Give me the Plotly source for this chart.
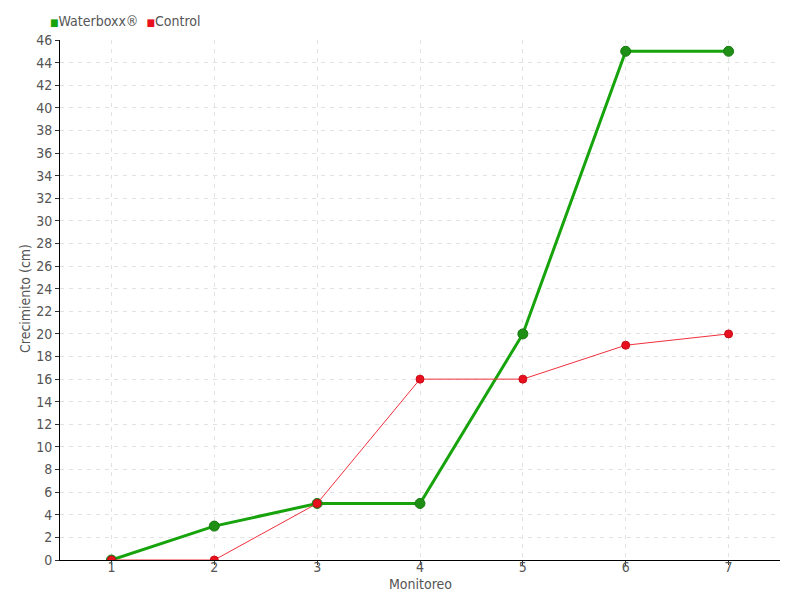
import plotly.graph_objects as go

monitoreo = [1, 2, 3, 4, 5, 6, 7]
waterboxx = [0, 3, 5, 5, 20, 45, 45]
control = [0, 0, 5, 16, 16, 19, 20]

FONT = "'Liberation Sans Narrow', 'DejaVu Sans Condensed', sans-serif"
GREEN = "#17a30c"
RED = "#e8101e"
TXT = "#555555"

fig = go.Figure()
fig.add_trace(go.Scatter(
    x=monitoreo, y=waterboxx, name="Waterboxx®", mode="lines+markers",
    line=dict(color=GREEN, width=3), showlegend=False,
    marker=dict(color="#1e8f14", size=10, symbol="circle",
                line=dict(color="#177a10", width=1)),
))
fig.add_trace(go.Scatter(
    x=monitoreo, y=control, name="Control", mode="lines+markers",
    line=dict(color="#f0303c", width=1), showlegend=False,
    marker=dict(color=RED, size=8, symbol="circle",
                line=dict(color="#c80e18", width=1)),
))

W, H = 792, 592
L, R, T, B = 52, 20, 32, 40
PW, PH = W - L - R, H - T - B
fig.update_layout(
    width=W, height=H,
    margin=dict(l=L, r=R, t=T, b=B, autoexpand=False),
    paper_bgcolor="white", plot_bgcolor="white",
    font=dict(family=FONT, size=14, color=TXT),
    showlegend=False,
    xaxis=dict(
        range=[0.5, 7.5], tickvals=monitoreo, ticktext=[str(v) for v in monitoreo],
        showgrid=True, gridcolor="#e2e2e2", griddash="4px,5px",
        showline=True, linecolor="black", linewidth=1,
        ticks="outside", ticklen=4, tickcolor="#333333",
        ticklabelstandoff=-10,
        zeroline=False, automargin=False,
    ),
    yaxis=dict(
        range=[0, 46], dtick=2, tick0=0,
        showgrid=True, gridcolor="#e2e2e2", griddash="4px,5px",
        showline=True, linecolor="black", linewidth=1,
        ticks="outside", ticklen=4, tickcolor="#333333",
        zeroline=False, automargin=False,
    ),
)
# axis titles
fig.add_annotation(xref="paper", yref="paper", x=0.5, y=-(576 - (H - B)) / PH,
                   xanchor="center", yanchor="middle", showarrow=False,
                   text="Monitoreo", font=dict(size=14, color=TXT))
fig.add_annotation(xref="paper", yref="paper", x=(17 - L) / PW, y=(H - B - 291) / PH,
                   xanchor="center", yanchor="middle", showarrow=False, textangle=-90,
                   text="Crecimiento (cm)", font=dict(size=14, color=TXT))
# legend
fig.add_annotation(
    xref="paper", yref="paper",
    x=(40 - L) / PW, y=1 + (T - 13) / PH,
    xanchor="left", yanchor="middle", showarrow=False,
    text=(f'<span style="color:{GREEN};font-size:10px">■</span>Waterboxx®  '
          f'<span style="color:{RED};font-size:10px">■</span>Control'),
    font=dict(size=14, color=TXT),
)

fig.write_html("out.html")
